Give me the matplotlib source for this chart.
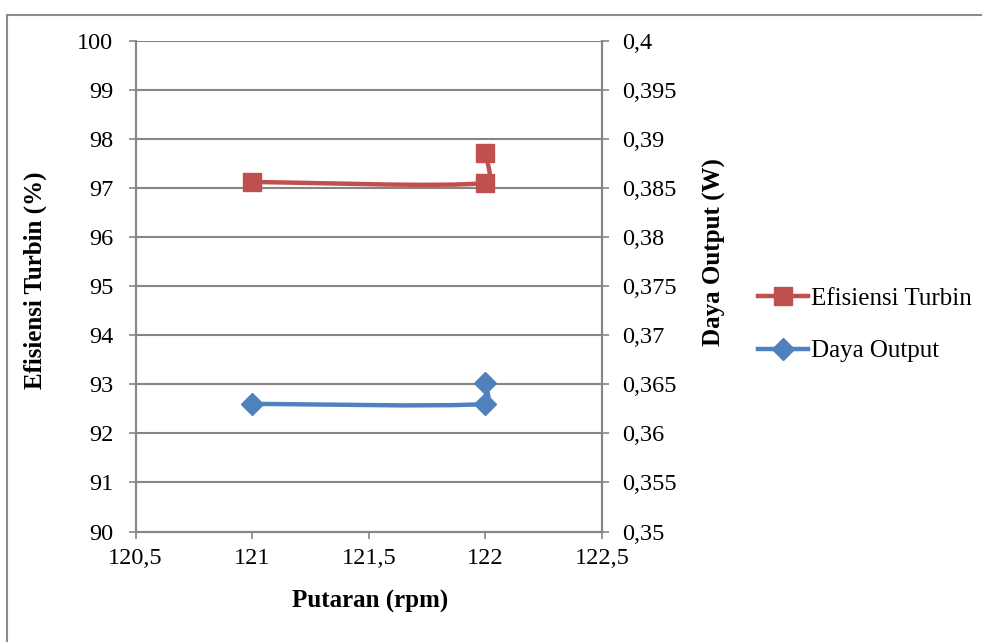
import numpy as np
import matplotlib.pyplot as plt
from matplotlib.patches import Rectangle, PathPatch
from matplotlib.path import Path

plt.rcParams['font.family'] = ['Liberation Serif', 'DejaVu Serif']

putaran = [121, 122, 122]
efisiensi = [97.12, 97.10, 97.70]
daya = [0.3630, 0.3630, 0.3651]

x_ticks = [120.5, 121, 121.5, 122, 122.5]
x_labels = ['120,5', '121', '121,5', '122', '122,5']
y1_ticks = [90, 91, 92, 93, 94, 95, 96, 97, 98, 99, 100]
y2_ticks = [0.35, 0.355, 0.36, 0.365, 0.37, 0.375, 0.38, 0.385, 0.39, 0.395, 0.4]
y2_labels = ['0,35', '0,355', '0,36', '0,365', '0,37', '0,375', '0,38', '0,385', '0,39', '0,395', '0,4']

red = '#C0504D'
blue = '#4F81BD'
grey = '#868686'

fig = plt.figure(figsize=(9.82, 6.42), dpi=100)
fig.patches.append(Rectangle((0.0075, -0.1), 1.1, 1.077, transform=fig.transFigure,
                             fill=False, edgecolor='#8c8c8c', lw=1.5))
ax = fig.add_axes([0.138, 0.1721, 0.475, 0.7648])
ax2 = ax.twinx()

ax.set_xlim(120.5, 122.5)
ax.set_ylim(90, 100)
ax2.set_ylim(0.35, 0.4)
ax.set_xticks(x_ticks)
ax.set_xticklabels(x_labels)
ax.set_yticks(y1_ticks)
ax2.set_yticks(y2_ticks)
ax2.set_yticklabels(y2_labels)
ax.yaxis.grid(True, color=grey, lw=1.5)
ax.set_axisbelow(True)

for a in (ax, ax2):
    for s in a.spines.values():
        s.set_color(grey)
        s.set_linewidth(1.5)
    a.spines['top'].set_visible(False)
    a.tick_params(colors=grey, labelcolor='black', labelsize=17.5, length=5, width=1.2)
ax.tick_params(axis='x', pad=7)
ax.tick_params(axis='y', pad=11)
ax2.tick_params(axis='y', pad=9.5)

ax.set_xlabel('Putaran (rpm)', fontsize=18, fontweight='bold')
ax.set_ylabel('Efisiensi Turbin (%)', fontsize=18, fontweight='bold')
ax2.set_ylabel('Daya Output (W)', fontsize=18, fontweight='bold')
ax.xaxis.set_label_coords(0.503, -0.119)
ax.yaxis.set_label_coords(-0.19, 0.512)
ax2.yaxis.set_label_coords(1.2165, 0.570)


def smooth(axis, xs, ys, color):
    pts = axis.transData.transform(np.column_stack([xs, ys]))
    n = len(pts)
    verts = [pts[0]]
    codes = [Path.MOVETO]
    for i in range(n - 1):
        p0 = pts[max(i - 1, 0)]
        p1 = pts[i]
        p2 = pts[i + 1]
        p3 = pts[min(i + 2, n - 1)]
        seg = np.hypot(*(p2 - p1))
        t1 = (p2 - p0) / 6
        t2 = (p3 - p1) / 6
        for t in (t1, t2):
            m = np.hypot(*t)
            if m > 0.35 * seg:
                t *= 0.35 * seg / m
        verts += [p1 + t1, p2 - t2, p2]
        codes += [Path.CURVE4] * 3
    path = Path(axis.transData.inverted().transform(np.array(verts)), codes)
    axis.add_patch(PathPatch(path, fill=False, edgecolor=color, lw=3.2,
                             capstyle='round', joinstyle='round'))


smooth(ax, putaran, efisiensi, red)
ax.plot(putaran, efisiensi, ls='none', marker='s', ms=13.5, color=red)
smooth(ax2, putaran, daya, blue)
ax2.plot(putaran, daya, ls='none', marker='D', ms=11.5, color=blue)

h1, = ax.plot([], [], color=red, lw=3.2, marker='s', ms=13.5)
h2, = ax.plot([], [], color=blue, lw=3.2, marker='D', ms=11.5)
fig.legend([h1, h2], ['Efisiensi Turbin', 'Daya Output'], loc='center left',
           bbox_to_anchor=(0.772, 0.494), frameon=False, fontsize=18,
           handlelength=2.0, handletextpad=0.1, labelspacing=1.2,
           borderaxespad=0, borderpad=0)

fig.savefig('out.png', dpi=100)
